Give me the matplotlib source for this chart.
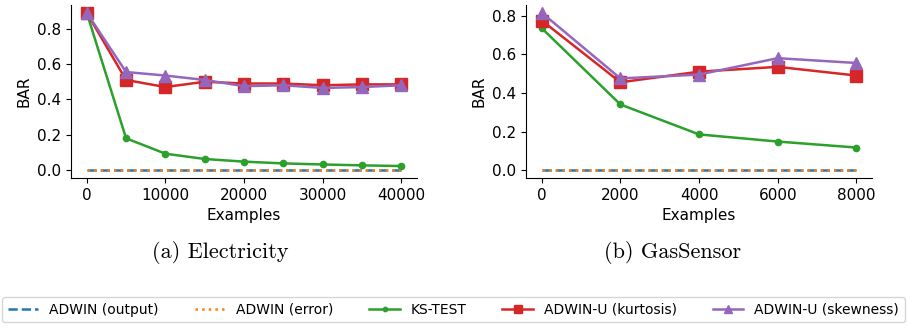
import matplotlib
matplotlib.use("Agg")
import matplotlib.pyplot as plt

# Electricity
elec_x = [0, 5000, 10000, 15000, 20000, 25000, 30000, 35000, 40000]
elec_adwin_output = [0, 0, 0, 0, 0, 0, 0, 0, 0]
elec_adwin_error = [0, 0, 0, 0, 0, 0, 0, 0, 0]
elec_ks = [0.89, 0.18, 0.093, 0.063, 0.048, 0.038, 0.032, 0.027, 0.023]
elec_kurt = [0.89, 0.51, 0.47, 0.50, 0.49, 0.49, 0.48, 0.485, 0.485]
elec_skew = [0.89, 0.555, 0.535, 0.51, 0.475, 0.48, 0.465, 0.47, 0.48]

# GasSensor
gas_x = [0, 2000, 4000, 6000, 8000]
gas_adwin_output = [0, 0, 0, 0, 0]
gas_adwin_error = [0, 0, 0, 0, 0]
gas_ks = [0.735, 0.34, 0.185, 0.148, 0.117]
gas_kurt = [0.775, 0.455, 0.51, 0.535, 0.49]
gas_skew = [0.815, 0.475, 0.495, 0.58, 0.555]

labels = ["ADWIN (output)", "ADWIN (error)", "KS-TEST",
          "ADWIN-U (kurtosis)", "ADWIN-U (skewness)"]
captions = ["(a) Electricity", "(b) GasSensor"]

plt.rcParams['font.size'] = 11
fig = plt.figure(figsize=(9.07, 3.29), dpi=100)
ax1 = fig.add_axes([0.0783, 0.459, 0.3815, 0.526])
ax2 = fig.add_axes([0.580, 0.459, 0.3815, 0.526])

def draw(ax, x, out, err, ks, kurt, skew):
    ax.plot(x, out, '--', color='C0', lw=1.8, label=labels[0])
    ax.plot(x, err, ':', color='C1', lw=1.8, label=labels[1])
    ax.plot(x, ks, '-o', color='C2', lw=1.8, ms=4.5, label=labels[2])
    ax.plot(x, kurt, '-s', color='C3', lw=1.8, ms=8, label=labels[3])
    ax.plot(x, skew, '-^', color='C4', lw=1.8, ms=8, label=labels[4])
    ax.set_xlabel("Examples")
    ax.set_ylabel("BAR")
    ax.spines['top'].set_visible(False)
    ax.spines['right'].set_visible(False)

draw(ax1, elec_x, elec_adwin_output, elec_adwin_error, elec_ks, elec_kurt, elec_skew)
draw(ax2, gas_x, gas_adwin_output, gas_adwin_error, gas_ks, gas_kurt, gas_skew)
ax1.set_xticks([0, 10000, 20000, 30000, 40000])
ax1.set_yticks([0.0, 0.2, 0.4, 0.6, 0.8])
ax2.set_xticks([0, 2000, 4000, 6000, 8000])
ax2.set_yticks([0.0, 0.2, 0.4, 0.6, 0.8])

fig.text(0.243, 0.234, captions[0], ha='center', va='center', fontsize=16, family='cmr10')
fig.text(0.742, 0.234, captions[1], ha='center', va='center', fontsize=16, family='cmr10')

handles, labs = ax1.get_legend_handles_labels()
fig.legend(handles, labs, ncol=5, loc='center', bbox_to_anchor=(0.0025, 0.018, 0.995, 0.08),
           mode='expand', fontsize=10, frameon=True, borderaxespad=0.0,
           markerscale=0.7, handlelength=2.2)

fig.savefig("out.png", dpi=100)
